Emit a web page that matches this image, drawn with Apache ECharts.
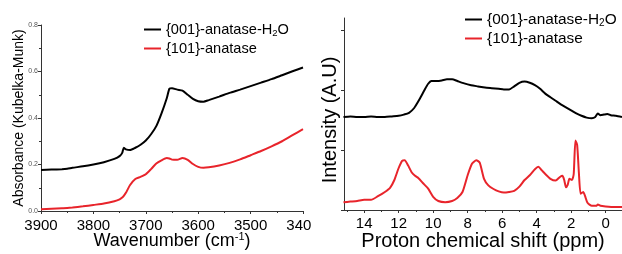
<!DOCTYPE html>
<html>
<head>
<meta charset="utf-8">
<script src="https://cdn.jsdelivr.net/npm/echarts@6/dist/echarts.min.js"></script>
<style>
  html, body { margin: 0; padding: 0; background: #fff; }
  #left, #right { position: absolute; top: 0; width: 311px; height: 254px; }
  #left { left: 0; }
  #right { left: 311px; }
</style>
</head>
<body>
<div id="left"></div>
<div id="right"></div>
<script>
// left panel: DRIFT spectra
var wavenumber = [3900, 3880, 3860, 3850, 3840, 3820, 3800, 3780, 3760, 3750, 3745, 3742, 3738, 3730,
  3720, 3710, 3700, 3690, 3680, 3670, 3660, 3655, 3650, 3640, 3630, 3620, 3610, 3600, 3590, 3580,
  3560, 3540, 3520, 3500, 3480, 3460, 3440, 3420, 3400];
var absH2O = [0.176, 0.178, 0.180, 0.182, 0.186, 0.192, 0.200, 0.210, 0.224, 0.236, 0.250, 0.272, 0.265, 0.262,
  0.272, 0.285, 0.303, 0.330, 0.365, 0.420, 0.485, 0.526, 0.528, 0.522, 0.518, 0.500, 0.482, 0.472, 0.470, 0.477,
  0.492, 0.508, 0.522, 0.537, 0.552, 0.567, 0.584, 0.601, 0.617];
var abs101 = [0.008, 0.010, 0.012, 0.013, 0.015, 0.020, 0.026, 0.032, 0.042, 0.050, 0.058, 0.065, 0.078, 0.112,
  0.138, 0.147, 0.158, 0.180, 0.204, 0.218, 0.228, 0.226, 0.221, 0.220, 0.228, 0.220, 0.202, 0.190, 0.186, 0.188,
  0.196, 0.207, 0.222, 0.240, 0.258, 0.278, 0.300, 0.326, 0.352];
var absTicks = [0, 0.2, 0.4, 0.6, 0.8];

// right panel: 1H MAS NMR
var ppmH2O = [15.2, 14.8, 14.4, 14.0, 13.6, 13.2, 12.8, 12.4, 12.0, 11.7, 11.4, 11.1, 10.8, 10.5, 10.3, 10.1,
  9.8, 9.5, 9.2, 8.9, 8.6, 8.2, 7.8, 7.4, 7.0, 6.6, 6.2, 5.9, 5.6, 5.3, 5.0, 4.7, 4.4, 4.1, 3.8, 3.5, 3.2,
  2.9, 2.6, 2.3, 2.0, 1.7, 1.4, 1.1, 0.8, 0.6, 0.45, 0.3, 0.1, -0.1, -0.3, -0.6, -0.95];
var intH2O = [1.55, 1.56, 1.55, 1.55, 1.56, 1.55, 1.55, 1.56, 1.57, 1.59, 1.62, 1.70, 1.84, 2.00, 2.10, 2.15,
  2.15, 2.16, 2.18, 2.18, 2.15, 2.11, 2.08, 2.06, 2.04, 2.03, 2.02, 2.01, 2.01, 2.06, 2.12, 2.14, 2.12, 2.08, 2.02, 1.94, 1.88,
  1.82, 1.76, 1.71, 1.66, 1.61, 1.57, 1.54, 1.53, 1.55, 1.61, 1.58, 1.59, 1.60, 1.58, 1.57, 1.55];
var ppm101 = [15.2, 14.8, 14.4, 14.0, 13.6, 13.2, 12.8, 12.5, 12.25, 12.0, 11.8, 11.65, 11.45, 11.25, 11.05, 10.85,
  10.6, 10.3, 10.0, 9.7, 9.3, 8.9, 8.6, 8.3, 8.0, 7.75, 7.5, 7.3, 7.05, 6.8, 6.5, 6.2, 5.9, 5.6, 5.3, 5.0,
  4.7, 4.4, 4.1, 3.9, 3.7, 3.5, 3.2, 2.9, 2.65, 2.5, 2.4, 2.3, 2.2, 2.1, 1.95, 1.85, 1.75, 1.65, 1.55, 1.45,
  1.3, 1.2, 1.05, 0.8, 0.55, 0.45, 0.3, 0.0, -0.5, -0.95];
var int101 = [0.13, 0.14, 0.15, 0.17, 0.17, 0.23, 0.30, 0.37, 0.50, 0.70, 0.82, 0.83, 0.74, 0.63, 0.57, 0.53,
  0.45, 0.36, 0.22, 0.15, 0.13, 0.15, 0.20, 0.30, 0.58, 0.77, 0.83, 0.79, 0.52, 0.41, 0.35, 0.31, 0.29, 0.30, 0.32, 0.39,
  0.50, 0.58, 0.68, 0.72, 0.66, 0.60, 0.52, 0.49, 0.55, 0.57, 0.50, 0.38, 0.42, 0.52, 0.50, 0.60, 1.16, 1.08, 0.62, 0.27,
  0.30, 0.24, 0.12, 0.07, 0.07, 0.09, 0.07, 0.06, 0.05, 0.05];
var ppmLabels = [14, 12, 10, 8, 6, 4, 2, 0];
var ppmMinor = [15, 13, 11, 9, 7, 5, 3, 1, -1];
var intTicks = [0, 1, 2, 3];

var nameH2O = '{001}-anatase-H2O',
    name101 = '{101}-anatase';
var fontFam = 'Liberation Sans, Arial, sans-serif';
var axisColor = '#333';

function zip(xs, ys) {
    return xs.map(function(x, i) { return [x, ys[i]]; });
}

function legendFmt(name) {
    return name === nameH2O ? '{001}-anatase-H{sub|2}O' : name;
}

function makeLegend(name, left, top, size) {
    return {
        data: [name],
        left: left,
        top: top,
        icon: 'rect',
        itemWidth: 17,
        itemHeight: 2,
        itemGap: 0,
        formatter: legendFmt,
        textStyle: {
            fontFamily: fontFam, fontSize: size, color: '#000',
            rich: {sub: {fontFamily: fontFam, fontSize: size * 0.65, padding: [7, 0, 0, 0], color: '#000'}}
        }
    };
}

function lineSeries(name, data, color) {
    return {
        name: name,
        type: 'line',
        data: data,
        symbol: 'none',
        smooth: 0.2,
        lineStyle: {color: color, width: 2},
        itemStyle: {color: color},
        animation: false
    };
}

//左图
var leftChart = echarts.init(document.getElementById('left'));
leftChart.setOption({
    animation: false,
    grid: {left: 41, right: 8, top: 25, bottom: 43, outerBoundsMode: 'none'},
    legend: [makeLegend(nameH2O, 139, 17, 14.6), makeLegend(name101, 139, 36, 14.6)],
    xAxis: {
        type: 'value',
        min: 3400, max: 3900, interval: 100,
        inverse: true,
        name: 'Wavenumber (cm{sup|-1})',
        nameLocation: 'middle',
        nameGap: 20,
        nameMoveOverlap: false,
        nameTextStyle: {
            fontFamily: fontFam, fontSize: 18, color: '#000',
            rich: {sup: {fontFamily: fontFam, fontSize: 11, padding: [0, 0, 9, 0], color: '#000'}}
        },
        axisLine: {onZero: false, lineStyle: {color: axisColor, width: 1}},
        axisTick: {length: 3, lineStyle: {color: axisColor}},
        minorTick: {show: true, splitNumber: 2, length: 2, lineStyle: {color: axisColor}},
        axisLabel: {
            fontFamily: fontFam, fontSize: 15, color: '#000', margin: 7,
            formatter: function(v) { return String(v); }
        },
        splitLine: {show: false}
    },
    yAxis: {
        type: 'value',
        min: 0, max: 0.8, interval: 0.2,
        name: 'Absorbance (Kubelka-Munk)',
        nameLocation: 'middle',
        nameGap: 15,
        nameMoveOverlap: false,
        nameTextStyle: {fontFamily: fontFam, fontSize: 14, color: '#000'},
        axisLine: {show: true, onZero: false, lineStyle: {color: axisColor, width: 1}},
        axisTick: {show: true, length: 3, lineStyle: {color: axisColor}},
        minorTick: {show: true, splitNumber: 2, length: 2, lineStyle: {color: axisColor}},
        axisLabel: {
            fontFamily: fontFam, fontSize: 7, color: '#555', margin: 3,
            customValues: absTicks,
            formatter: function(v) { return v.toFixed(1); }
        },
        splitLine: {show: false}
    },
    series: [
        lineSeries(nameH2O, zip(wavenumber, absH2O), '#000'),
        lineSeries(name101, zip(wavenumber, abs101), '#e8242b')
    ]
});

//右图
var rightChart = echarts.init(document.getElementById('right'));
rightChart.setOption({
    animation: false,
    grid: {left: 33, right: 0, top: 18, bottom: 44, outerBoundsMode: 'none'},
    legend: [makeLegend(nameH2O, 149, 7, 15.4), makeLegend(name101, 149, 26, 15.4)],
    xAxis: [{
        type: 'value',
        min: -0.95, max: 15.17,
        inverse: true,
        name: 'Proton chemical shift (ppm)',
        nameLocation: 'middle',
        nameGap: 21,
        nameMoveOverlap: false,
        nameTextStyle: {fontFamily: fontFam, fontSize: 20, color: '#000'},
        axisLine: {onZero: false, lineStyle: {color: axisColor, width: 1}},
        axisTick: {length: 3, customValues: ppmLabels, lineStyle: {color: axisColor}},
        axisLabel: {fontFamily: fontFam, fontSize: 15, color: '#000', margin: 6, customValues: ppmLabels},
        splitLine: {show: false}
    }, {
        type: 'value',
        min: -0.95, max: 15.17,
        inverse: true,
        position: 'bottom',
        axisLine: {show: false, onZero: false},
        axisTick: {show: true, length: 2, customValues: ppmMinor, lineStyle: {color: axisColor}},
        axisLabel: {show: false},
        splitLine: {show: false}
    }],
    yAxis: {
        type: 'value',
        min: 0, max: 3.2,
        name: 'Intensity (A.U)',
        nameLocation: 'middle',
        nameGap: 4,
        nameMoveOverlap: false,
        nameTextStyle: {fontFamily: fontFam, fontSize: 20, color: '#000', padding: [0, 12, 0, 0]},
        axisLine: {show: true, onZero: false, lineStyle: {color: axisColor, width: 1}},
        axisTick: {show: true, length: 3, customValues: intTicks, lineStyle: {color: axisColor}},
        axisLabel: {show: false},
        splitLine: {show: false}
    },
    series: [
        lineSeries(nameH2O, zip(ppmH2O, intH2O), '#000'),
        lineSeries(name101, zip(ppm101, int101), '#e8242b')
    ]
});
</script>
</body>
</html>
